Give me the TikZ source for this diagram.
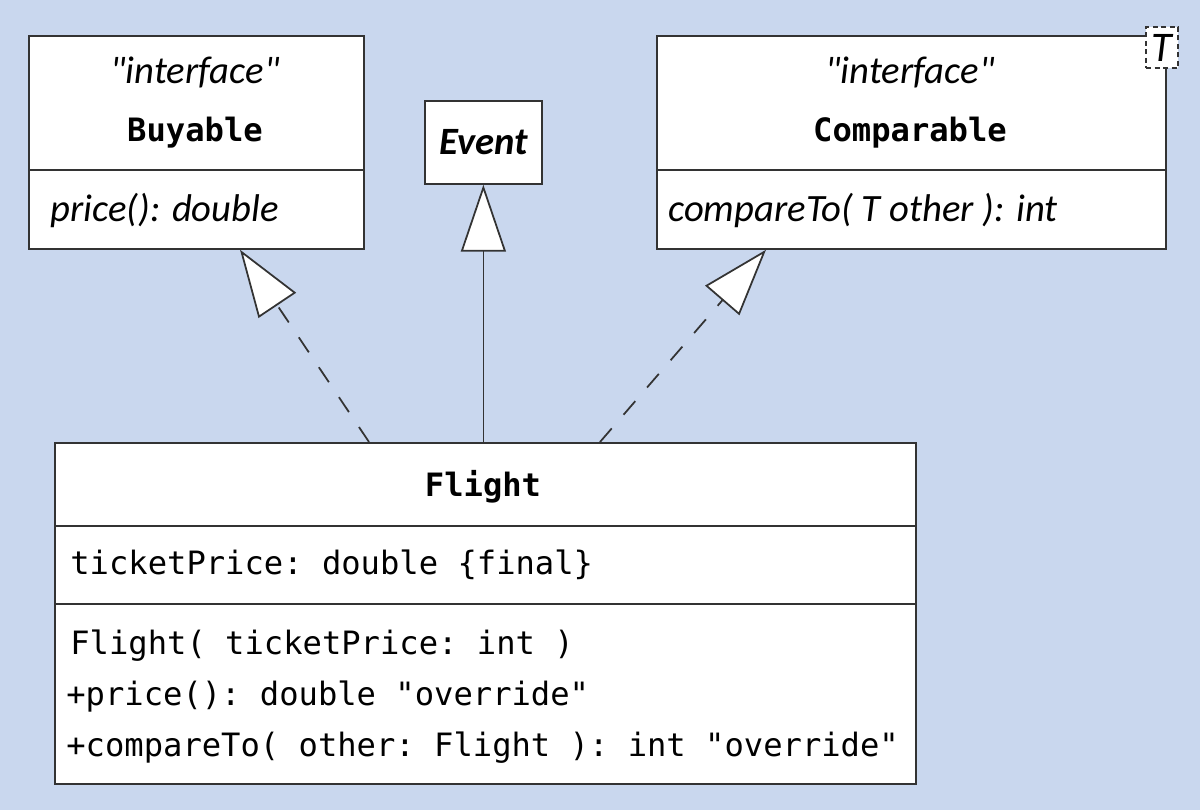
\documentclass[tikz,border=0pt]{standalone}
\usepackage{fontspec}
\setmainfont{Carlito}[Ligatures=TeXOff]
\setmonofont{DejaVu Sans Mono}
\usetikzlibrary{arrows.meta}
\definecolor{bgblue}{HTML}{C9D7EE}
\definecolor{linegray}{HTML}{333333}
\newcommand{\quoted}[1]{\symbol{34}#1\symbol{34}}

\begin{document}
\begin{tikzpicture}[
  box/.style={draw=linegray, line width=1pt, fill=white, inner sep=0pt, anchor=north west},
  sep/.style={draw=linegray, line width=1pt},
  stereo/.style={inner sep=0pt, font=\fontsize{22}{26}\selectfont\itshape},
  oper/.style={inner sep=0pt, anchor=west, font=\fontsize{22}{26}\selectfont\itshape},
  title/.style={inner sep=0pt, font=\fontsize{18.3}{22}\selectfont\ttfamily\bfseries},
  member/.style={inner sep=0pt, anchor=west, font=\fontsize{18.3}{22}\selectfont\ttfamily},
  realize/.style={draw=linegray, line width=1pt, dash pattern=on 0.36cm off 0.36cm,
    -{Triangle[open, length=1.34cm, width=0.9cm, fill=white]}},
  inherit/.style={draw=linegray, line width=1pt,
    -{Triangle[open, length=1.34cm, width=0.9cm, fill=white]}}
]
\fill[bgblue] (0,0) rectangle (24,16.2);
\useasboundingbox (0,0) rectangle (24,16.2);

% interface Buyable
\node[box, minimum width=6.7cm, minimum height=4.26cm] (buyable) at (0.56,15.5) {};
\draw[sep] (0.56,12.8) -- (7.26,12.8);
\node[stereo] (buyst) at (3.9,14.76) {\quoted{interface}};
\node[title] (buyname) at (3.9,13.54) {Buyable};
\node[oper] (buyprice) at (1.0,11.98) {price(): double};

% class Event
\node[box, minimum width=2.34cm, minimum height=1.66cm] (event) at (8.48,14.2) {};
\node[inner sep=0pt, font=\fontsize{22}{26}\selectfont\bfseries\itshape] (eventname) at (event.center) {Event};

% interface Comparable<T>
\node[box, minimum width=10.18cm, minimum height=4.26cm] (comparable) at (13.12,15.5) {};
\draw[sep] (13.12,12.8) -- (23.3,12.8);
\node[stereo] (compst) at (18.2,14.76) {\quoted{interface}};
\node[title] (compname) at (18.2,13.54) {Comparable};
\node[oper] (compto) at (13.36,11.98) {compareTo( T other ): int};
\node[draw=linegray, line width=1pt, dash pattern=on 0.1cm off 0.07cm, fill=white,
  minimum width=0.64cm, minimum height=0.82cm, inner sep=0pt,
  font=\fontsize{24}{28}\selectfont\itshape] (tparam) at (23.24,15.25) {T};

% class Flight
\node[box, minimum width=17.22cm, minimum height=6.82cm] (flight) at (1.08,7.36) {};
\draw[sep] (1.08,5.68) -- (18.3,5.68);
\draw[sep] (1.08,4.12) -- (18.3,4.12);
\node[title] (flightname) at (9.66,6.46) {Flight};
\node[member] (ticket) at (1.4,4.9) {ticketPrice: double \{final\}};
\node[member] (ctor) at (1.4,3.28) {Flight( ticketPrice: int )};
\node[member] (mprice) at (1.32,2.26) {+price(): double \quoted{override}};
\node[member] (mcomp) at (1.32,1.24) {+compareTo( other: Flight ): int \quoted{override}};

% relations
\draw[realize] ([xshift=6.3cm]flight.north west) -- ([xshift=4.24cm]buyable.south west);
\draw[inherit] (event.south |- flight.north) -- (event.south);
\draw[realize] ([xshift=10.92cm]flight.north west) -- ([xshift=2.2cm]comparable.south west);
\end{tikzpicture}
\end{document}
